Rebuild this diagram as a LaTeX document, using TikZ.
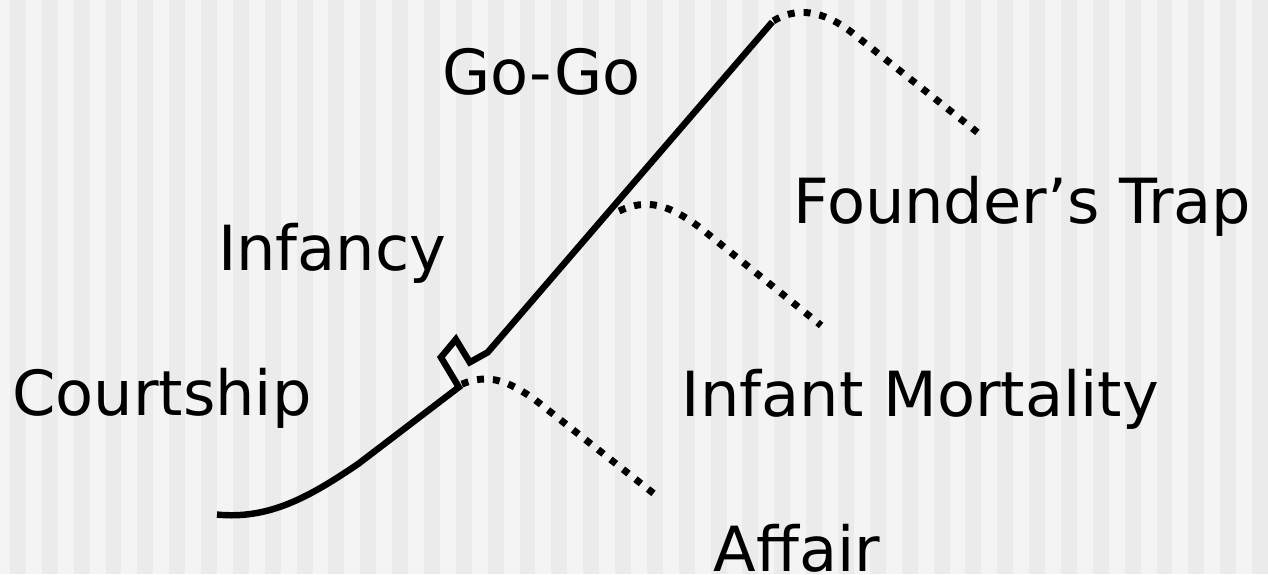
\documentclass[tikz,border=0pt]{standalone}
\usepackage{fontspec}
\setmainfont{DejaVu Sans}
\definecolor{stripeA}{HTML}{F4F4F4}
\definecolor{stripeB}{HTML}{EBEBEB}
\tikzset{
  lbl/.style={anchor=base west, inner sep=0pt, font=\fontsize{62.5}{70}\selectfont, text=black},
  mainline/.style={line width=6.5pt, line join=miter, black},
  dotline/.style={line width=7pt, dash pattern=on 7pt off 9pt, black},
}
\begin{document}
\begin{tikzpicture}[x=1pt,y=-1pt]
\fill[stripeA] (0,0) rectangle (1268,577);
\foreach \i in {0,...,39} {
  \fill[stripeB] ({10+32*\i},0) rectangle ({26+32*\i},577);
}
\useasboundingbox (0,0) rectangle (1268,577);
% labels
\node[lbl] (gogo) at (444,95) {Go-Go};
\node[lbl] (infancy) at (219,272) {Infancy};
\node[lbl] (courtship) at (12,417) {Courtship};
\node[lbl] (founder) at (797,225) {Founder’s Trap};
\node[lbl] (mortality) at (685,418) {Infant Mortality};
\node[lbl] (affair) at (717,574) {Affair};
% main curve
\coordinate (s) at (218,517);
\coordinate (zA) at (461,389);
\coordinate (zB) at (443,359);
\coordinate (zC) at (458,341);
\coordinate (zD) at (472,364);
\coordinate (zE) at (490,354);
\coordinate (top) at (776,22);
\draw[mainline] (s) .. controls (270,522) and (310,500) .. (360,466) -- (zA) -- (zB) -- (zC) -- (zD) -- (zE) -- (top);
% dotted branches
\coordinate (b1) at (464,386);
\coordinate (e1) at (662,500);
\draw[dotline] (b1) .. controls (490,375) and (510,382) .. (538,402) -- (e1);
\coordinate (b2) at (622,212);
\coordinate (e2) at (825,327);
\draw[dotline] (b2) .. controls (650,199) and (672,205) .. (705,230) -- (e2);
\coordinate (b3) at (777,21);
\coordinate (e3) at (982,133);
\draw[dotline] (b3) .. controls (800,7) and (826,10) .. (855,32) -- (e3);
\end{tikzpicture}
\end{document}
